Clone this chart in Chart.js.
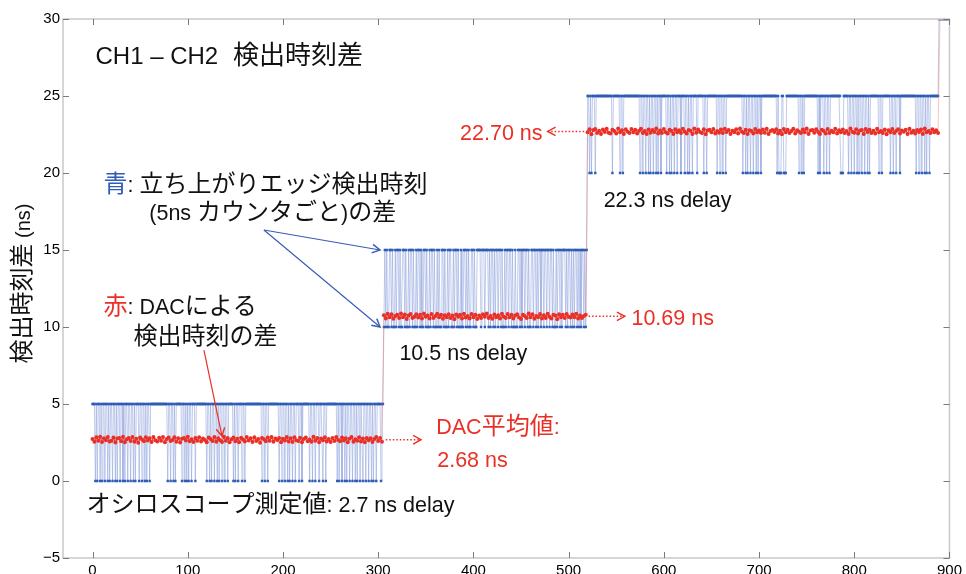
<!DOCTYPE html>
<html lang="ja">
<head>
<meta charset="utf-8">
<title>CH1 – CH2 検出時刻差</title>
<script src="https://cdn.jsdelivr.net/npm/chart.js@4.4.1/dist/chart.umd.min.js"></script>
<style>
  html, body { margin: 0; padding: 0; background: #ffffff; }
  #wrap { width: 966px; height: 574px; }
</style>
</head>
<body>
<div id="wrap"><canvas id="c" width="966" height="574"></canvas></div>
<script>
// ---- axis ticks ----
const X_TICKS = [0, 100, 200, 300, 400, 500, 600, 700, 800, 900];
const Y_TICKS = [-5, 0, 5, 10, 15, 20, 25, 30];

// ---- blue: 5 ns counter edge-time difference (two levels per delay setting) ----
const SEG_START = [0, 306, 520];
const BLUE_LEVELS = [[0, 5], [10, 15], [20, 25]];
// '1' = upper level, '0' = lower level, one character per sample
const BLUE_BITS_1 =
  '1110101101' + '0110110101' + '1011010110' + '1101011011' + '0110101110' +
  '1101101011' + '0111111111' + '1111111110' + '1101101011' + '1111011010' +
  '1011011101' + '1111111111' + '0110101101' + '1010110110' + '1101111101' +
  '0110111011' + '0111111111' + '1111111101' + '1011011111' + '1111110110' +
  '1101101011' + '0110111011' + '0111111101' + '1011011101' + '1101101111' +
  '1111111010' + '1101101011' + '0110110101' + '1011011011' + '0110101101' +
  '111011';
const BLUE_BITS_2 =
  '0101001101' + '0010110100' + '1101001011' + '0100101101' + '0011010010' +
  '1101001010' + '0110100101' + '1001011010' + '0100110101' + '0011010011' +
  '1101110111' + '0101101011' + '0110100101' + '1011010010' + '0110101101' +
  '1010011011' + '0101101101' + '1011011010' + '0101101011' + '1010110101' +
  '0110101011' + '0101';
const BLUE_BITS_3 =
  '1101011101' + '1111111111' + '1111110111' + '1111011011' + '1111111111' +
  '1111101101' + '1011010110' + '1101011011' + '1110110101' + '1011011101' +
  '1101101011' + '0111101111' + '1101101111' + '1111110110' + '1101101111' +
  '1111111111' + '1110110101' + '1011011010' + '1101111111' + '1111111110' +
  '1000110001' + '1111111111' + '1101101011' + '1111111111' + '1101011101' +
  '1011011111' + '1111110001' + '1111011011' + '0110101101' + '1011010111' +
  '1111110110' + '1111111101' + '1011011101' + '1111111111' + '1111101101' +
  '1011010110' + '111111111';
const BLUE_BITS = [BLUE_BITS_1, BLUE_BITS_2, BLUE_BITS_3];
// last samples after the final step
const BLUE_TAIL_X = [889, 890, 891, 892, 893, 894, 895, 896, 897, 898, 899];
const BLUE_TAIL_Y = 30;

// ---- red: DAC edge-time difference ----
const RED_MEAN = [2.68, 10.69, 22.70];
const RED_STEP = 2;
// deviation from the mean, in 0.01 ns, one value every RED_STEP samples
const RED_DEV_1 = [
  5,-13,16,-7,19,-15,9,-4,17,-11,  -6,14,-18,8,12,-10,20,-16,3,11,
  -9,17,-13,6,-19,14,2,-10,16,-5,  10,-15,18,-3,-12,13,-7,17,-16,4,
  14,-8,-2,16,-13,9,-18,7,11,-5,  19,-10,3,-14,12,-6,16,-11,8,-2,
  -16,14,5,-8,17,-13,10,-4,-15,19,  -7,11,-17,3,14,-10,6,-16,13,2,
  -11,17,-5,9,-14,16,-8,4,-19,12,  3,-10,14,-6,18,-13,8,-2,11,-16,
  6,-5,17,-11,9,-14,16,-3,-8,13,  -17,5,14,-10,2,-13,19,-7,11,-16,
  8,-3,16,-11,5,-14,12,-8,17,-2,  -10,14,-5,9,-16,6,18,-13,3,-7,
  16,-11,8,-17,12,-4,10,-14,5,17,  -8,11,-13
];
const RED_DEV_2 = [
  8,-13,17,-5,14,-16,3,11,-10,19,  -6,12,-17,5,16,-11,-2,14,-8,10,
  -14,18,-3,6,-13,16,-10,2,17,-5,  11,-16,8,-6,14,-11,5,-19,12,-2,
  10,-14,17,-8,3,-13,16,-5,11,-17,  6,-10,14,-3,19,-11,2,-16,12,-6,
  8,-14,17,-2,-10,16,-5,11,-13,5,  14,-8,-17,10,3,-11,18,-6,13,-16,
  2,-5,16,-13,8,-10,17,-3,-14,11,  5,-19,14,-6,10,-11,16,-2,-8,12,
  -5,17,-14,6,-10,3,11
];
const RED_DEV_3 = [
  -6,14,-19,10,16,-11,5,-16,12,-3,  17,-8,-14,11,3,-13,19,-5,8,-17,
  14,-2,-10,16,-6,11,-14,5,17,-11,  2,-16,12,-8,10,-3,19,-13,6,-10,
  16,-5,-14,11,3,-17,14,-6,8,-11,  17,-2,-13,10,5,-16,19,-8,12,-3,
  -10,14,-19,6,11,-5,16,-14,2,-8,  12,-11,17,-3,10,-16,5,-6,14,-13,
  19,-2,-10,11,-17,8,3,-14,16,-5,  6,-11,12,-8,17,-16,2,10,-3,14,
  -13,5,-19,16,-6,11,-10,3,17,-14,  8,-2,-11,12,-5,19,-16,6,10,-8,
  14,-3,-17,11,2,-13,16,-10,5,-6,  17,-14,8,-5,12,-11,3,-16,19,-2,
  -8,14,-13,6,10,-17,16,-3,11,-10,  5,-14,17,-6,2,-11,12,-19,8,-5,
  16,-10,3,14,-13,6,-2,11,-16,17,  -8,5,-14,10,-3,12,-17,19,-6,2,
  -11,14,-5,8,-10
];
const RED_DEV = [RED_DEV_1, RED_DEV_2, RED_DEV_3];
const RED_TAIL_X = [890, 899];
const RED_TAIL_Y = 30;

// oscilloscope reference delays
const SCOPE_DELAY = [2.7, 10.5, 22.3];

// ---- build point lists ----
const bluePoints = [];
BLUE_BITS.forEach((bits, s) => {
  for (let i = 0; i < bits.length; i++) {
    bluePoints.push({ x: SEG_START[s] + i, y: BLUE_LEVELS[s][bits[i] === '1' ? 1 : 0] });
  }
});
BLUE_TAIL_X.forEach(x => bluePoints.push({ x, y: BLUE_TAIL_Y }));

const redPoints = [];
RED_DEV.forEach((devs, s) => {
  devs.forEach((d, i) => {
    redPoints.push({ x: SEG_START[s] + i * RED_STEP, y: RED_MEAN[s] + d / 100 });
  });
});
RED_TAIL_X.forEach(x => redPoints.push({ x, y: RED_TAIL_Y }));

// ---- styling ----
const LAT_FONT = '"Liberation Sans", Arial, sans-serif';
const CJK_FONT = '"Noto Sans CJK JP", sans-serif';
const BLUE = '#2f5cb4';
const RED = '#ea3026';
const INK = '#111111';

// box frame with inward tick marks on all four sides
const framePlugin = {
  id: 'frame',
  afterDatasetsDraw(chart) {
    const { ctx, chartArea: a, scales } = chart;
    ctx.save();
    ctx.strokeStyle = '#c9c9c9';
    ctx.lineWidth = 1.5;
    ctx.strokeRect(a.left, a.top, a.right - a.left, a.bottom - a.top);
    ctx.strokeStyle = '#7a7a7a';
    ctx.lineWidth = 1;
    const L = 6;
    ctx.beginPath();
    X_TICKS.forEach(v => {
      const px = Math.round(scales.x.getPixelForValue(v)) + 0.5;
      ctx.moveTo(px, a.bottom); ctx.lineTo(px, a.bottom - L);
      ctx.moveTo(px, a.top); ctx.lineTo(px, a.top + L);
    });
    Y_TICKS.forEach(v => {
      const py = Math.round(scales.y.getPixelForValue(v)) + 0.5;
      ctx.moveTo(a.left, py); ctx.lineTo(a.left + L, py);
      ctx.moveTo(a.right, py); ctx.lineTo(a.right - L, py);
    });
    ctx.stroke();
    ctx.restore();
  }
};

// split a string into runs of Japanese / Latin characters
const CJK_RE = /[\u3000-\u30ff\u3400-\u9fff\uff01-\uff60]/;
function splitRuns(str) {
  const out = [];
  for (const ch of str) {
    const c = CJK_RE.test(ch);
    if (out.length && out[out.length - 1][1] === c) out[out.length - 1][0] += ch;
    else out.push([ch, c]);
  }
  return out;
}

// text notes and arrows
const notesPlugin = {
  id: 'notes',
  afterDraw(chart) {
    const { ctx, scales } = chart;
    const X = v => scales.x.getPixelForValue(v);
    const Y = v => scales.y.getPixelForValue(v);
    ctx.save();
    ctx.textBaseline = 'alphabetic';
    ctx.textAlign = 'left';

    // parts: [[text, colour], ...]; yc is the visual centre line of the text
    function runs(parts, x, yc, lat, cjk, draw = true) {
      let cx = x;
      const base = yc + 0.37 * cjk;
      parts.forEach(([s, color]) => {
        splitRuns(s).forEach(([t, isC]) => {
          ctx.font = (isC ? cjk : lat) + 'px ' + (isC ? CJK_FONT : LAT_FONT);
          ctx.fillStyle = color;
          if (draw) ctx.fillText(t, cx, base);
          cx += ctx.measureText(t).width;
        });
      });
      return cx - x;
    }
    function head(x1, y1, x2, y2, color) {
      const ang = Math.atan2(y2 - y1, x2 - x1);
      const s = 9, w = 0.5;
      ctx.strokeStyle = color;
      ctx.setLineDash([]);
      ctx.beginPath();
      ctx.moveTo(x2 - s * Math.cos(ang - w), y2 - s * Math.sin(ang - w));
      ctx.lineTo(x2, y2);
      ctx.lineTo(x2 - s * Math.cos(ang + w), y2 - s * Math.sin(ang + w));
      ctx.stroke();
    }
    function arrow(x1, y1, x2, y2, color, width, dash) {
      ctx.strokeStyle = color;
      ctx.lineWidth = width;
      ctx.setLineDash(dash || []);
      ctx.beginPath();
      ctx.moveTo(x1, y1); ctx.lineTo(x2, y2);
      ctx.stroke();
      ctx.lineWidth = 1.4;
      head(x1, y1, x2, y2, color);
    }

    // title
    runs([['CH1 – CH2', INK]], X(3.1), Y(27.7), 24, 26);
    runs([['検出時刻差', INK]], X(147.5), Y(27.7), 24, 26);

    // series notes
    runs([['青', BLUE], [': 立ち上がりエッジ検出時刻', INK]], X(11.5), Y(19.35), 21.5, 24);
    runs([['(5ns カウンタごと)の差', INK]], X(59.6), Y(17.5), 21.5, 24);
    runs([['赤', RED], [': DACによる', INK]], X(11.5), Y(11.4), 21.5, 24);
    runs([['検出時刻の差', INK]], X(43), Y(9.5), 21.5, 24);

    // scope delays
    runs([['オシロスコープ測定値: ' + SCOPE_DELAY[0] + ' ns delay', INK]], X(-6.3), Y(-1.43), 21.5, 24);
    runs([[SCOPE_DELAY[1] + ' ns delay', INK]], X(322.3), Y(8.45), 21.5, 24);
    runs([[SCOPE_DELAY[2] + ' ns delay', INK]], X(536.8), Y(18.4), 21.5, 24);

    // DAC averages
    runs([['DAC平均値:', RED]], X(361), Y(3.65), 21.5, 24);
    runs([[RED_MEAN[0].toFixed(2) + ' ns', RED]], X(362), Y(1.5), 21.5, 24);
    runs([[RED_MEAN[1].toFixed(2) + ' ns', RED]], X(566), Y(RED_MEAN[1]), 21.5, 24);
    runs([[RED_MEAN[2].toFixed(2) + ' ns', RED]], X(386), Y(RED_MEAN[2]), 21.5, 24);

    // dotted pointers to the averages
    arrow(X(308), Y(RED_MEAN[0]), X(345), Y(RED_MEAN[0]), RED, 1.5, [1.5, 2]);
    arrow(X(521), Y(RED_MEAN[1]), X(559), Y(RED_MEAN[1]), RED, 1.5, [1.5, 2]);
    arrow(X(520), Y(RED_MEAN[2]), X(478), Y(RED_MEAN[2]), RED, 1.5, [1.5, 2]);

    // blue pointers to the two counter levels
    arrow(X(180), Y(16.3), X(302), Y(15), '#3a5cb8', 1.2);
    arrow(X(180), Y(16.3), X(302), Y(10), '#3a5cb8', 1.2);

    // red pointer to the DAC trace
    arrow(X(117), Y(8.5), X(136), Y(2.92), RED, 1.2);

    // y-axis title
    const yParts = [['検出時刻差 (ns)', INK]];
    const w = runs(yParts, 0, 0, 20, 24, false);
    ctx.translate(21, (chart.chartArea.top + chart.chartArea.bottom) / 2 - 5);
    ctx.rotate(-Math.PI / 2);
    runs(yParts, -w / 2, 0, 20, 24);
    ctx.restore();
  }
};

new Chart(document.getElementById('c'), {
  type: 'scatter',
  data: {
    datasets: [
      {
        label: 'DAC',
        data: redPoints,
        showLine: true,
        borderColor: 'rgba(234, 48, 38, 0.85)',
        borderWidth: 1.2,
        segment: {
          // jumps between delay settings are drawn faintly
          borderColor: c => (Math.abs(c.p1.parsed.y - c.p0.parsed.y) > 3 ? 'rgba(236, 90, 80, 0.35)' : undefined),
          borderWidth: c => (Math.abs(c.p1.parsed.y - c.p0.parsed.y) > 3 ? 1 : undefined)
        },
        pointRadius: ctx => (ctx.raw && ctx.raw.y >= 29 ? 0 : 2),
        pointBackgroundColor: RED,
        pointBorderWidth: 0,
        pointHoverRadius: 0
      },
      {
        label: '5ns counter',
        data: bluePoints,
        showLine: true,
        borderColor: 'rgba(140, 160, 220, 0.55)',
        borderWidth: 1,
        pointRadius: 1.7,
        pointStyle: 'rect',
        pointBackgroundColor: BLUE,
        pointBorderWidth: 0,
        pointHoverRadius: 0
      }
    ]
  },
  options: {
    responsive: false,
    animation: false,
    devicePixelRatio: 1,
    layout: { padding: { top: 19, right: 13, left: 0, bottom: 0 } },
    plugins: {
      legend: { display: false },
      tooltip: { enabled: false },
      title: { display: false }
    },
    scales: {
      x: {
        type: 'linear',
        min: -31,
        max: 900,
        grid: { display: false, drawTicks: false },
        border: { display: false },
        afterBuildTicks: s => { s.ticks = X_TICKS.map(v => ({ value: v })); },
        afterFit: s => { s.height = 16; },
        ticks: {
          padding: 4,
          maxRotation: 0,
          autoSkip: false,
          color: '#000000',
          font: { family: LAT_FONT, size: 15 }
        }
      },
      y: {
        type: 'linear',
        min: -5,
        max: 30,
        grid: { display: false, drawTicks: false },
        border: { display: false },
        afterBuildTicks: s => { s.ticks = Y_TICKS.map(v => ({ value: v })); },
        afterFit: s => { s.width = 63; },
        ticks: {
          padding: 3,
          autoSkip: false,
          color: '#000000',
          font: { family: LAT_FONT, size: 15 },
          callback: v => String(v).replace('-', '−')
        }
      }
    }
  },
  plugins: [framePlugin, notesPlugin]
});
</script>
</body>
</html>
